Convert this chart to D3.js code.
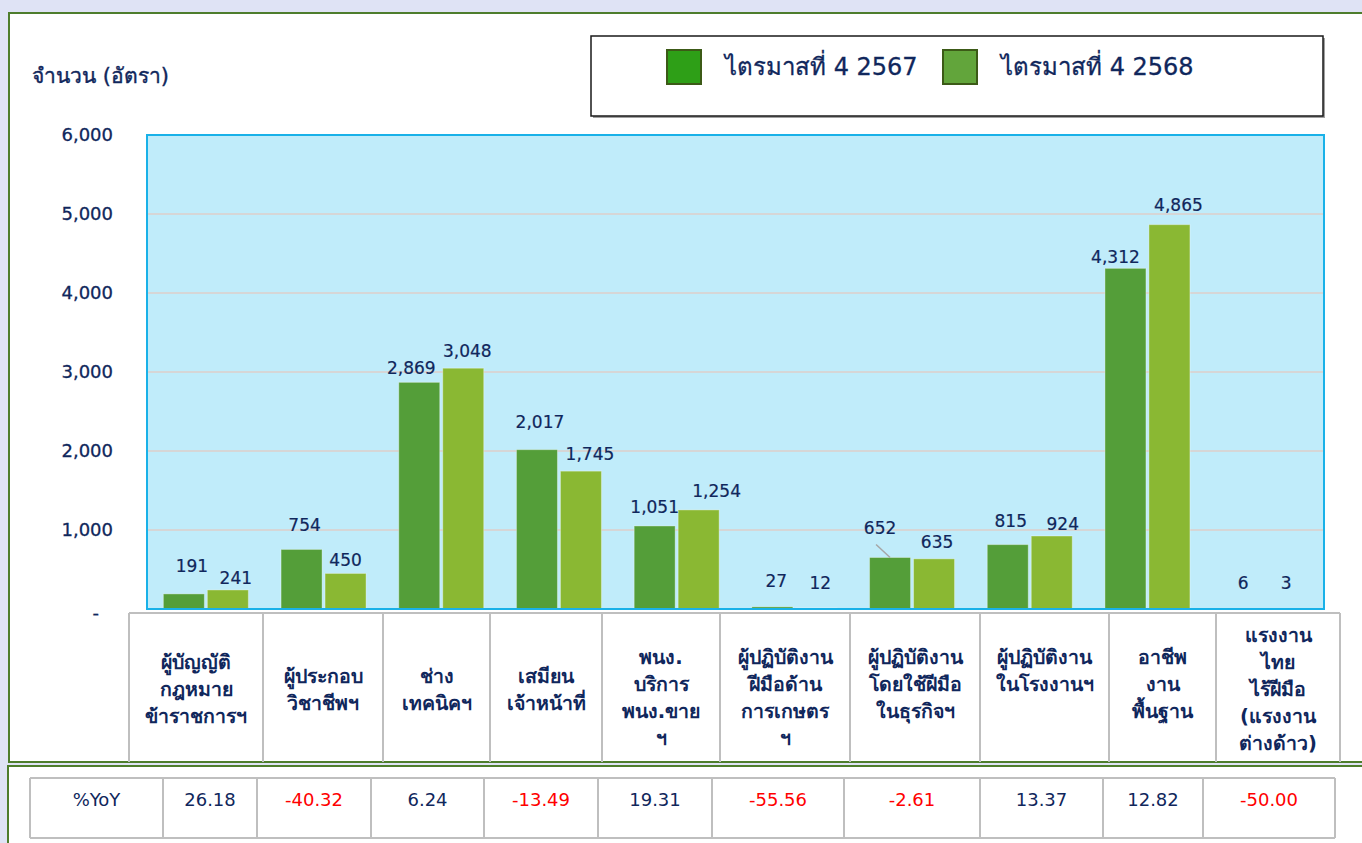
<!DOCTYPE html>
<html>
<head>
<meta charset="utf-8">
<script src="https://cdn.jsdelivr.net/npm/d3@7/dist/d3.min.js"></script>
<style>
  html, body { margin: 0; padding: 0; background: #dfe3f5; }
  svg { display: block; }
  text { font-family: "DejaVu Sans", "Noto Sans", sans-serif; }
</style>
</head>
<body>
<svg id="chart" width="1362" height="843"></svg>
<script>
// ---------------- DATA ----------------
const categories = [
  ["ผู้บัญญัติ", "กฎหมาย", "ข้าราชการฯ"],
  ["ผู้ประกอบ", "วิชาชีพฯ"],
  ["ช่าง", "เทคนิคฯ"],
  ["เสมียน", "เจ้าหน้าที่"],
  ["พนง.", "บริการ", "พนง.ขาย", "ฯ"],
  ["ผู้ปฏิบัติงาน", "ฝีมือด้าน", "การเกษตร", "ฯ"],
  ["ผู้ปฏิบัติงาน", "โดยใช้ฝีมือ", "ในธุรกิจฯ"],
  ["ผู้ปฏิบัติงาน", "ในโรงงานฯ"],
  ["อาชีพ", "งาน", "พื้นฐาน"],
  ["แรงงาน", "ไทย", "ไร้ฝีมือ", "(แรงงาน", "ต่างด้าว)"]
];
const seriesNames = ["ไตรมาสที่ 4 2567", "ไตรมาสที่ 4 2568"];
const q4_2567 = [191, 754, 2869, 2017, 1051, 27, 652, 815, 4312, 6];
const q4_2568 = [241, 450, 3048, 1745, 1254, 12, 635, 924, 4865, 3];
const yoyValues = [26.18, -40.32, 6.24, -13.49, 19.31, -55.56, -2.61, 13.37, 12.82, -50.00];
const yTickValues = [0, 1000, 2000, 3000, 4000, 5000, 6000];
const yTickLabels = ["-", "1,000", "2,000", "3,000", "4,000", "5,000", "6,000"];
const yAxisTitle = "จำนวน (อัตรา)";
const yoyHeader = "%YoY";

// ---------------- LAYOUT / STYLE ----------------
const navy = "#10275c";
const barColors = ["#549e39", "#8ab833"];
const legendColors = ["#2e9f17", "#62a53b"];
const plot = { left: 147, right: 1324, top: 135, bottom: 609 };
// label nudges (px) relative to default position above each bar
const labelNudgeX = [[8, 3, -8, 3, 0, 4, -10, 3, -10, 0], [8, 0, 4, 9, 18, 4, 3, 11, 9, -1]];
const labelNudgeY = [[-14, -11, 0, -14, -5, -12, -16, -10, 3, -12], [2, 0, -3, -3, -5, -11, -3, 2, -6, -12]];
const leaderLines = [{ series: 0, index: 6 }];
const catCellEdges = [129, 263, 383, 490, 602, 720, 850, 980, 1109, 1216, 1340];
const catVAlign = ["middle", "middle", "middle", "middle", "top", "top", "top", "top", "top", "middle"];
const yoyCellEdges = [30, 163, 257, 371, 484, 598, 712, 844, 980, 1103, 1203, 1335];

const svg = d3.select("#chart");

// Panels
svg.append("rect").attr("x", 9).attr("y", 13).attr("width", 1400).attr("height", 749)
  .attr("fill", "#ffffff").attr("stroke", "#4e7d2c").attr("stroke-width", 2);
svg.append("rect").attr("x", 8).attr("y", 766).attr("width", 1400).attr("height", 120)
  .attr("fill", "#ffffff").attr("stroke", "#4e7d2c").attr("stroke-width", 2);

// Scales
const x = d3.scaleBand().domain(d3.range(categories.length)).range([plot.left, plot.right]).padding(0);
const groupW = x.bandwidth() * 0.722;
const xInner = d3.scaleBand().domain([0, 1]).range([-groupW / 2, groupW / 2]).paddingInner(0.068);
const y = d3.scaleLinear().domain([0, 6000]).range([plot.bottom, plot.top]);

// Plot background
svg.append("rect").attr("x", plot.left).attr("y", plot.top)
  .attr("width", plot.right - plot.left).attr("height", plot.bottom - plot.top)
  .attr("fill", "#c0ecfa");

// Gridlines
svg.append("g").selectAll("line").data(yTickValues.filter(v => v > 0 && v < 6000)).join("line")
  .attr("x1", plot.left).attr("x2", plot.right)
  .attr("y1", d => y(d)).attr("y2", d => y(d))
  .attr("stroke", "#d6d6d6").attr("stroke-width", 2);

// Y axis labels
const yAxis = d3.axisLeft(y).tickValues(yTickValues)
  .tickFormat((d, i) => yTickLabels[i]).tickSize(0).tickPadding(0);
const yg = svg.append("g").attr("transform", `translate(113,0)`).call(yAxis);
yg.select(".domain").remove();
yg.selectAll("text").attr("fill", navy).style("font-size", "18px")
  .style("font-family", "'DejaVu Sans', sans-serif")
  .attr("stroke", navy).attr("stroke-width", 0.3)
  .attr("dx", (d) => d === 0 ? -14 : 0).attr("dy", (d) => d === 0 ? "0.55em" : "0.32em");

// Axis title
svg.append("text").attr("x", 32).attr("y", 83).text(yAxisTitle)
  .attr("fill", navy).attr("stroke", navy).attr("stroke-width", 0.4).style("font-size", "21px");

// Bars
const seriesData = [q4_2567, q4_2568];
seriesData.forEach((vals, s) => {
  svg.append("g").selectAll("rect").data(vals).join("rect")
    .attr("x", (d, i) => x(i) + x.bandwidth() / 2 + xInner(s))
    .attr("y", d => y(d))
    .attr("width", xInner.bandwidth())
    .attr("height", d => y(0) - y(d))
    .attr("fill", barColors[s])
    .attr("stroke", "rgba(255,255,255,0.35)").attr("stroke-width", 1);
});

// Leader lines
leaderLines.forEach(l => {
  const v = seriesData[l.series][l.index];
  const cx = x(l.index) + x.bandwidth() / 2 + xInner(l.series) + xInner.bandwidth() / 2;
  svg.append("line")
    .attr("x1", cx - 14).attr("y1", y(v) - 13)
    .attr("x2", cx).attr("y2", y(v))
    .attr("stroke", "#a6a6a6").attr("stroke-width", 1.5);
});

// Value labels
seriesData.forEach((vals, s) => {
  svg.append("g").selectAll("text").data(vals).join("text")
    .attr("x", (d, i) => x(i) + x.bandwidth() / 2 + xInner(s) + xInner.bandwidth() / 2 + labelNudgeX[s][i])
    .attr("y", (d, i) => y(d) - 14 + labelNudgeY[s][i])
    .attr("dy", "0.36em")
    .attr("text-anchor", "middle")
    .attr("fill", navy).attr("stroke", navy).attr("stroke-width", 0.2)
    .style("font-size", "17px")
    .text(d => d3.format(",")(d));
});

// Plot border
svg.append("rect").attr("x", plot.left).attr("y", plot.top)
  .attr("width", plot.right - plot.left).attr("height", plot.bottom - plot.top)
  .attr("fill", "none").attr("stroke", "#19b1e8").attr("stroke-width", 2);

// Category table
const catTop = 613, catBottom = 762;
const cg = svg.append("g");
cg.append("line").attr("x1", catCellEdges[0]).attr("x2", catCellEdges[catCellEdges.length - 1])
  .attr("y1", catTop).attr("y2", catTop).attr("stroke", "#bfbfbf").attr("stroke-width", 2);
cg.selectAll("line.v").data(catCellEdges).join("line").attr("class", "v")
  .attr("x1", d => d).attr("x2", d => d).attr("y1", catTop).attr("y2", catBottom)
  .attr("stroke", "#bfbfbf").attr("stroke-width", 2);
const lineH = 27;
categories.forEach((lines, i) => {
  const cx = (catCellEdges[i] + catCellEdges[i + 1]) / 2;
  let y0;
  if (catVAlign[i] === "top") y0 = 657;
  else y0 = 689 - (lines.length - 1) * lineH / 2;
  const t = cg.append("text").attr("text-anchor", "middle").attr("fill", navy)
    .style("font-size", "19.5px").style("font-weight", "bold");
  lines.forEach((ln, j) => {
    t.append("tspan").attr("x", cx).attr("y", y0 + j * lineH).attr("dy", "0.36em").text(ln);
  });
});

// Legend
const lg = svg.append("g");
lg.append("rect").attr("x", 593).attr("y", 38).attr("width", 732).attr("height", 80).attr("fill", "#a0a0a0");
lg.append("rect").attr("x", 591).attr("y", 36).attr("width", 732).attr("height", 80)
  .attr("fill", "#ffffff").attr("stroke", "#1a1a1a").attr("stroke-width", 1.5);
const legendX = [667, 943];
seriesNames.forEach((n, s) => {
  lg.append("rect").attr("x", legendX[s]).attr("y", 50).attr("width", 34).attr("height", 34)
    .attr("fill", legendColors[s]).attr("stroke", "#3c5a17").attr("stroke-width", 2);
  lg.append("text").attr("x", legendX[s] + 58).attr("y", 66).attr("dy", "0.36em")
    .attr("fill", navy).attr("stroke", navy).attr("stroke-width", 0.3)
    .style("font-size", "24px").text(n);
});

// YoY table
const yTop = 778, yBottom = 838;
const tg = svg.append("g");
[yTop, yBottom].forEach(yy => tg.append("line")
  .attr("x1", yoyCellEdges[0]).attr("x2", yoyCellEdges[yoyCellEdges.length - 1])
  .attr("y1", yy).attr("y2", yy).attr("stroke", "#bfbfbf").attr("stroke-width", 2));
tg.selectAll("line.v").data(yoyCellEdges).join("line").attr("class", "v")
  .attr("x1", d => d).attr("x2", d => d).attr("y1", yTop).attr("y2", yBottom)
  .attr("stroke", "#bfbfbf").attr("stroke-width", 2);
const yoyCells = [yoyHeader].concat(yoyValues.map(v => v.toFixed(2)));
tg.selectAll("text").data(yoyCells).join("text")
  .attr("x", (d, i) => (yoyCellEdges[i] + yoyCellEdges[i + 1]) / 2)
  .attr("y", 800).attr("dy", "0.36em").attr("text-anchor", "middle")
  .attr("fill", (d, i) => i > 0 && yoyValues[i - 1] < 0 ? "#ff0000" : navy)
  .style("font-size", "18px").text(d => d);
</script>
</body>
</html>
